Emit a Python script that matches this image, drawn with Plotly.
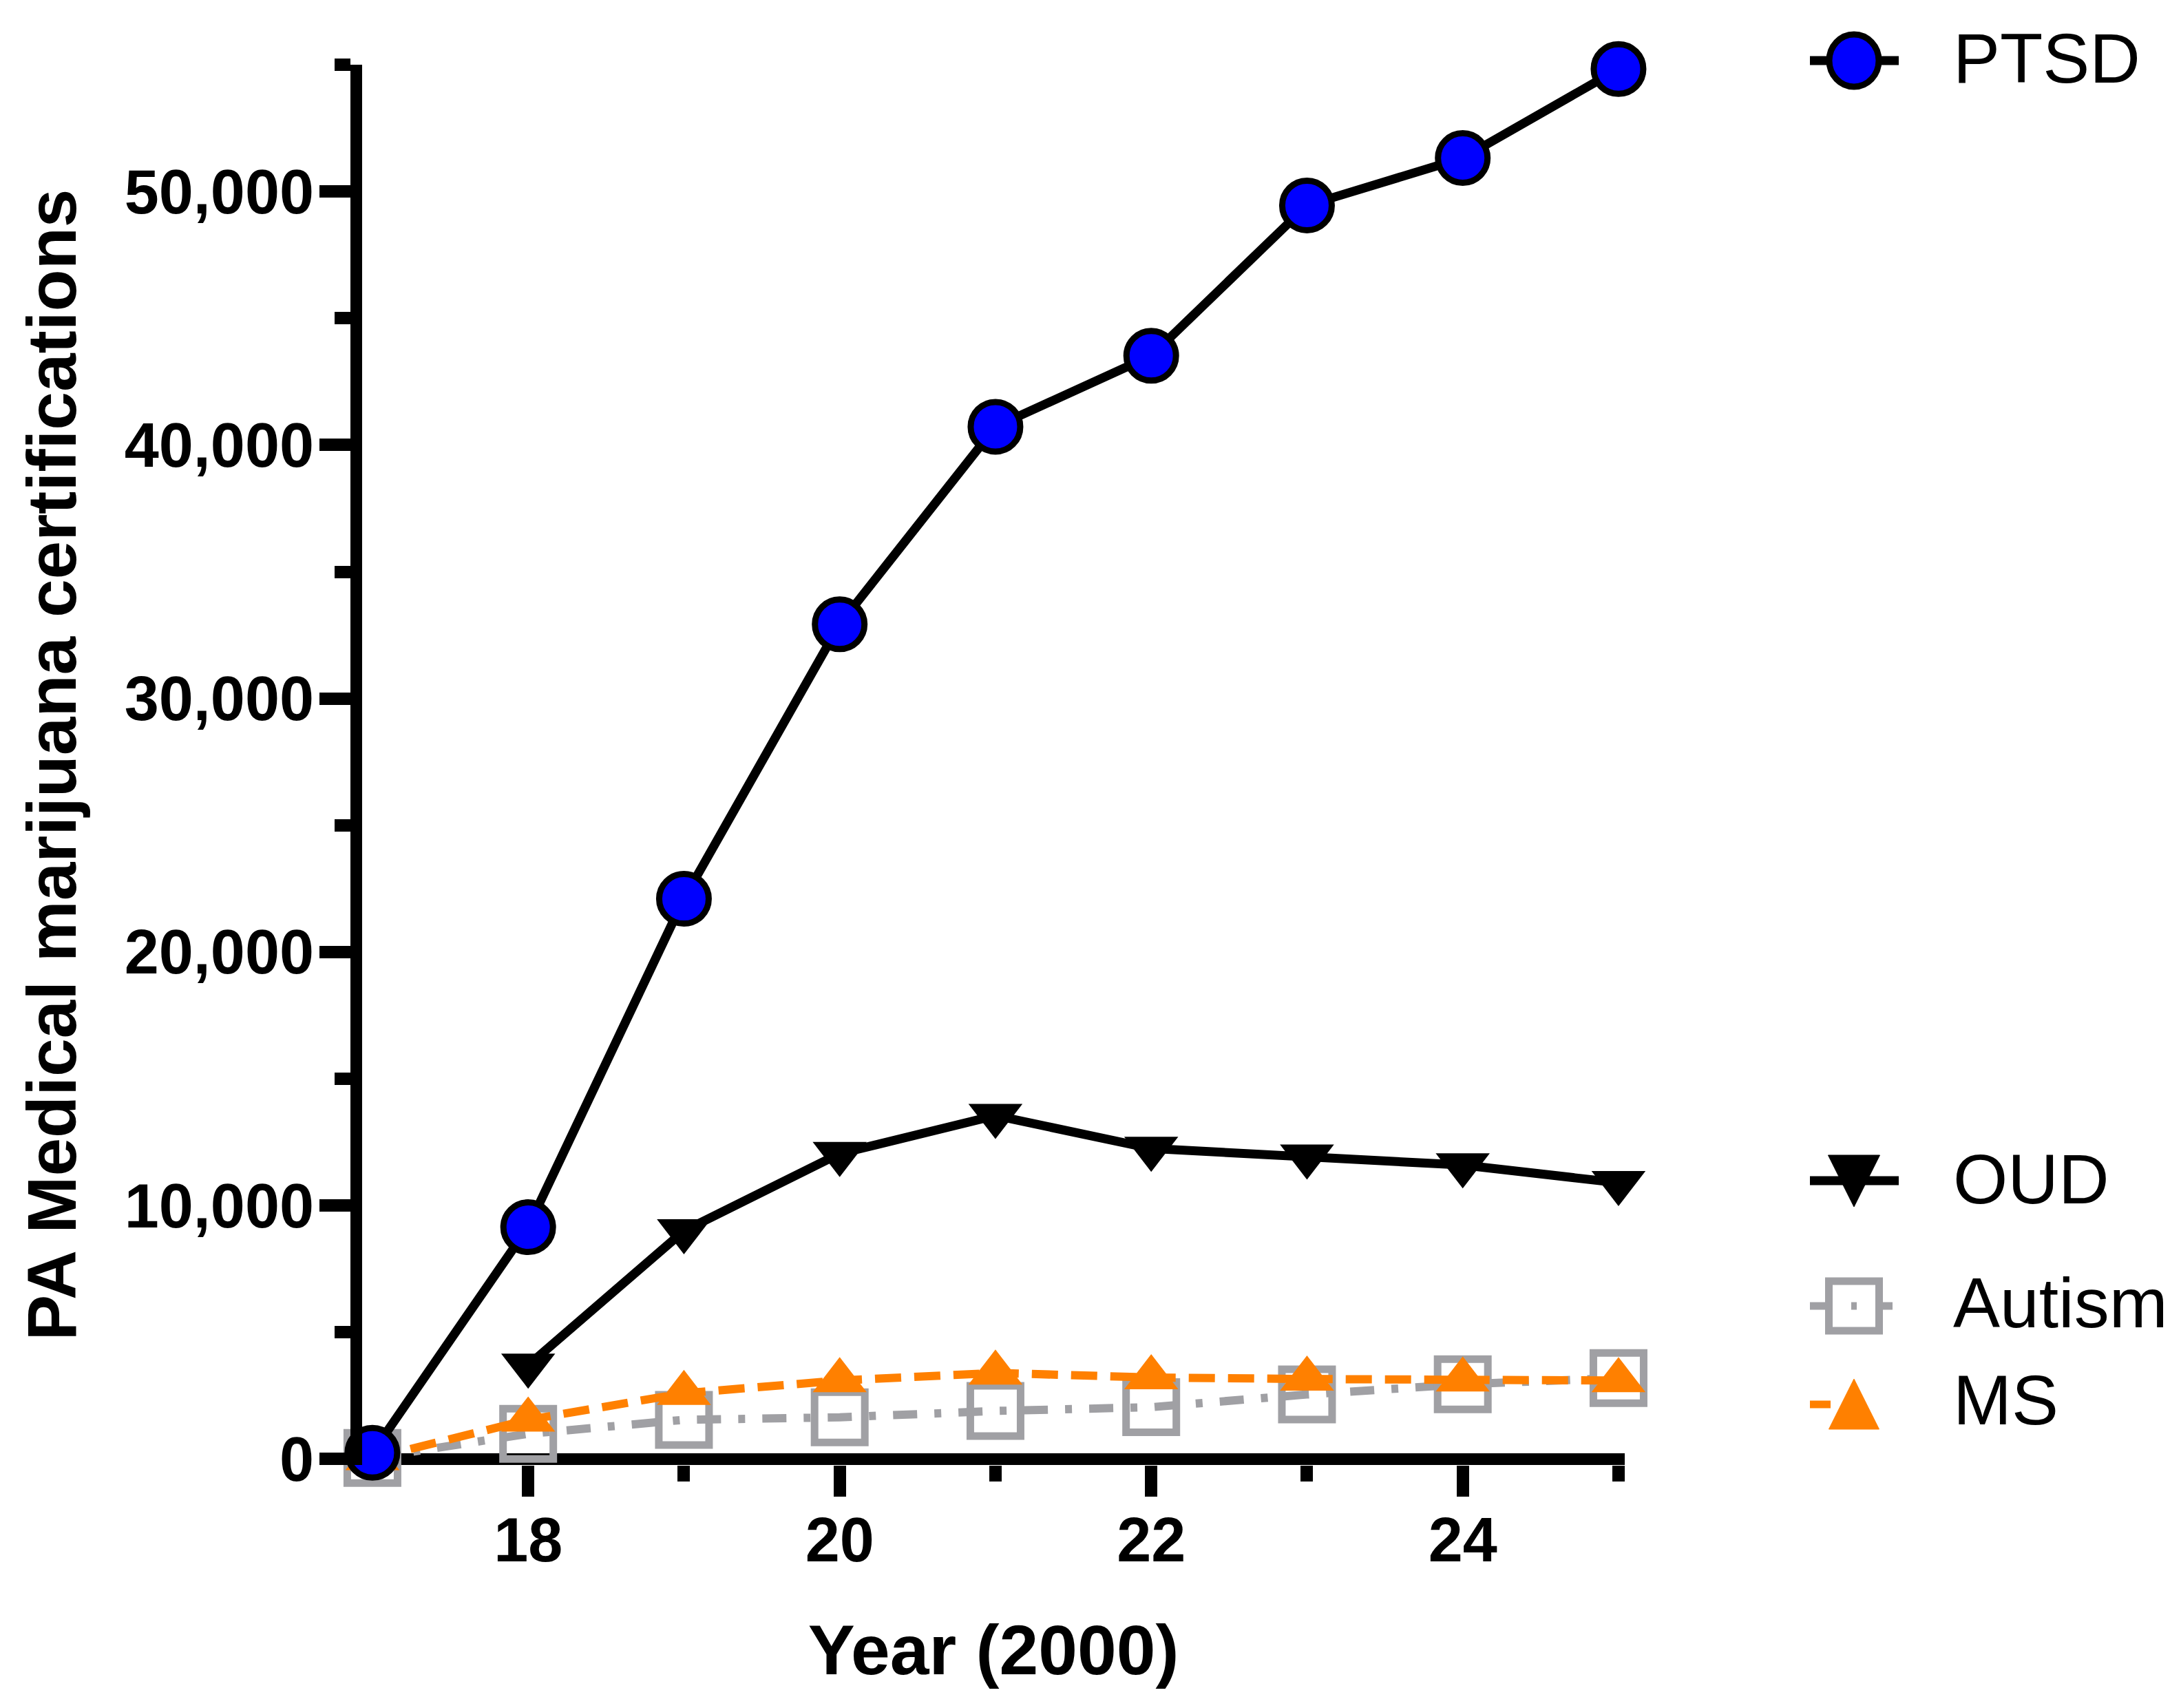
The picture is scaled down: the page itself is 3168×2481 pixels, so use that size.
import plotly.graph_objects as go

# ---------------- data ----------------
years = [17, 18, 19, 20, 21, 22, 23, 24, 25]
ptsd = [250, 9150, 22100, 32930, 40720, 43520, 49450, 51320, 54830]
oud_years = [18, 19, 20, 21, 22, 23, 24, 25]
oud = [3700, 9000, 12050, 13550, 12250, 11950, 11600, 10900]
autism = [50, 1000, 1550, 1650, 1900, 2050, 2550, 2950, 3200]
ms = [30, 1550, 2600, 3100, 3400, 3220, 3160, 3130, 3100]

x_major = [18, 20, 22, 24]
x_minor = [19, 21, 23, 25]
y_major = [0, 10000, 20000, 30000, 40000, 50000]
y_labels = ["0", "10,000", "20,000", "30,000", "40,000", "50,000"]

names = ["PTSD", "OUD", "Autism", "MS"]

# ---------------- styling ----------------
W, H = 3168, 2481
L, R, T, B = 526, 2360, 94, 2128
BLACK = "#000000"
BLUE = "#0000FF"
GRAY = "#A0A0A4"
ORANGE = "#FF8000"
FONT = "Liberation Sans, Arial, sans-serif"
LW = 13
AXW = 17

fig = go.Figure()

fig.add_trace(go.Scatter(
    x=oud_years, y=oud, name=names[1], mode="lines+markers",
    line=dict(color=BLACK, width=LW),
    marker=dict(symbol="triangle-down", size=68, color=BLACK, line=dict(width=0)),
    cliponaxis=False, showlegend=False))

fig.add_trace(go.Scatter(
    x=years, y=autism, name=names[2], mode="lines+markers",
    line=dict(color=GRAY, width=12, dash="35px,25px,10px,25px"),
    marker=dict(symbol="square-open", size=73, color=GRAY, line=dict(width=11, color=GRAY)),
    cliponaxis=False, showlegend=False))

fig.add_trace(go.Scatter(
    x=years, y=ms, name=names[3], mode="lines+markers",
    line=dict(color=ORANGE, width=12, dash="38px,19px"),
    marker=dict(symbol="triangle-up", size=68, color=ORANGE, line=dict(width=0)),
    cliponaxis=False, showlegend=False))

fig.add_trace(go.Scatter(
    x=years, y=ptsd, name=names[0], mode="lines+markers",
    line=dict(color=BLACK, width=LW),
    marker=dict(symbol="circle", size=72, color=BLUE, line=dict(width=9, color=BLACK)),
    cliponaxis=False, showlegend=False))

# ---------------- manual legend (layout shapes + text) ----------------
pw, ph = R - L, B - T


def px(xp):
    return (xp - L) / pw


def py(yp):
    return (B - yp) / ph


shapes = []
annotations = []
sx0, sx1, scx = 2629, 2758, 2693
text_x = 2835
rows = {"PTSD": 88, "OUD": 1715, "Autism": 1897, "MS": 2040}
text_y = {"PTSD": 85, "OUD": 1713, "Autism": 1893, "MS": 2034}

# PTSD
y0 = rows["PTSD"]
shapes.append(dict(type="line", xref="paper", yref="paper", x0=px(sx0), x1=px(sx1),
                   y0=py(y0), y1=py(y0), line=dict(color=BLACK, width=LW)))
shapes.append(dict(type="circle", xref="paper", yref="paper",
                   x0=px(scx - 36), x1=px(scx + 36), y0=py(y0 + 38), y1=py(y0 - 38),
                   fillcolor=BLUE, line=dict(color=BLACK, width=9)))
# OUD
y0 = rows["OUD"]
shapes.append(dict(type="line", xref="paper", yref="paper", x0=px(sx0), x1=px(sx1),
                   y0=py(y0), y1=py(y0), line=dict(color=BLACK, width=LW)))
shapes.append(dict(type="path", xref="paper", yref="paper",
                   path="M %f,%f L %f,%f L %f,%f Z" % (px(scx - 37.5), py(y0 - 37), px(scx + 37.5), py(y0 - 37),
                                                       px(scx), py(y0 + 38)),
                   fillcolor=BLACK, line=dict(color=BLACK, width=1)))
# Autism
y0 = rows["Autism"]
shapes.append(dict(type="line", xref="paper", yref="paper", x0=px(sx0), x1=px(sx1),
                   y0=py(y0), y1=py(y0), line=dict(color=GRAY, width=11, dash="22px,38px,8px,30px")))
shapes.append(dict(type="rect", xref="paper", yref="paper",
                   x0=px(scx - 36.5), x1=px(scx + 36.5), y0=py(y0 + 36), y1=py(y0 - 36),
                   fillcolor="rgba(0,0,0,0)", line=dict(color=GRAY, width=11)))
# MS
y0 = rows["MS"]
shapes.append(dict(type="line", xref="paper", yref="paper", x0=px(sx0), x1=px(sx1),
                   y0=py(y0), y1=py(y0), line=dict(color=ORANGE, width=11, dash="30px,100px")))
shapes.append(dict(type="path", xref="paper", yref="paper",
                   path="M %f,%f L %f,%f L %f,%f Z" % (px(scx - 36.5), py(y0 + 36), px(scx + 36.5), py(y0 + 36),
                                                       px(scx), py(y0 - 37)),
                   fillcolor=ORANGE, line=dict(color=ORANGE, width=1)))

for nm in names:
    annotations.append(dict(text=nm, xref="paper", yref="paper", x=px(text_x), y=py(text_y[nm]),
                            xanchor="left", yanchor="middle", showarrow=False,
                            font=dict(family=FONT, size=102, color=BLACK)))

fig.update_layout(
    width=W, height=H,
    margin=dict(l=L, r=W - R, t=T, b=H - B, autoexpand=False),
    paper_bgcolor="white", plot_bgcolor="white",
    shapes=shapes, annotations=annotations,
    showlegend=False,
    xaxis=dict(
        range=[16.934, 25.04], showgrid=False, zeroline=False,
        showline=False,
        ticks="outside", ticklen=45, tickwidth=18, tickcolor=BLACK,
        tickmode="array", tickvals=x_major, ticktext=[str(v) for v in x_major],
        tickfont=dict(family=FONT, size=90, color=BLACK, weight="bold"),
        ticklabelstandoff=-14,
        minor=dict(tickmode="array", tickvals=x_minor, ticks="outside", ticklen=23,
                   tickwidth=18, tickcolor=BLACK, showgrid=False),
        title=dict(text="Year (2000)", standoff=74,
                   font=dict(family=FONT, size=102, color=BLACK, weight="bold")),
        automargin=False,
    ),
    yaxis=dict(
        range=[-231, 55000], showgrid=False,
        zeroline=True, zerolinecolor=BLACK, zerolinewidth=AXW,
        showline=True, linecolor=BLACK, linewidth=AXW,
        ticks="outside", ticklen=45, tickwidth=18, tickcolor=BLACK,
        tickmode="array", tickvals=y_major, ticktext=y_labels,
        tickfont=dict(family=FONT, size=90, color=BLACK, weight="bold"),
        ticklabelstandoff=-10,
        minor=dict(tickmode="linear", tick0=0, dtick=5000, ticks="outside", ticklen=23,
                   tickwidth=18, tickcolor=BLACK, showgrid=False),
        title=dict(text="PA Medical marijuana certifications", standoff=44,
                   font=dict(family=FONT, size=100, color=BLACK, weight="bold")),
        automargin=False,
    ),
)

fig.write_html("out.html")
